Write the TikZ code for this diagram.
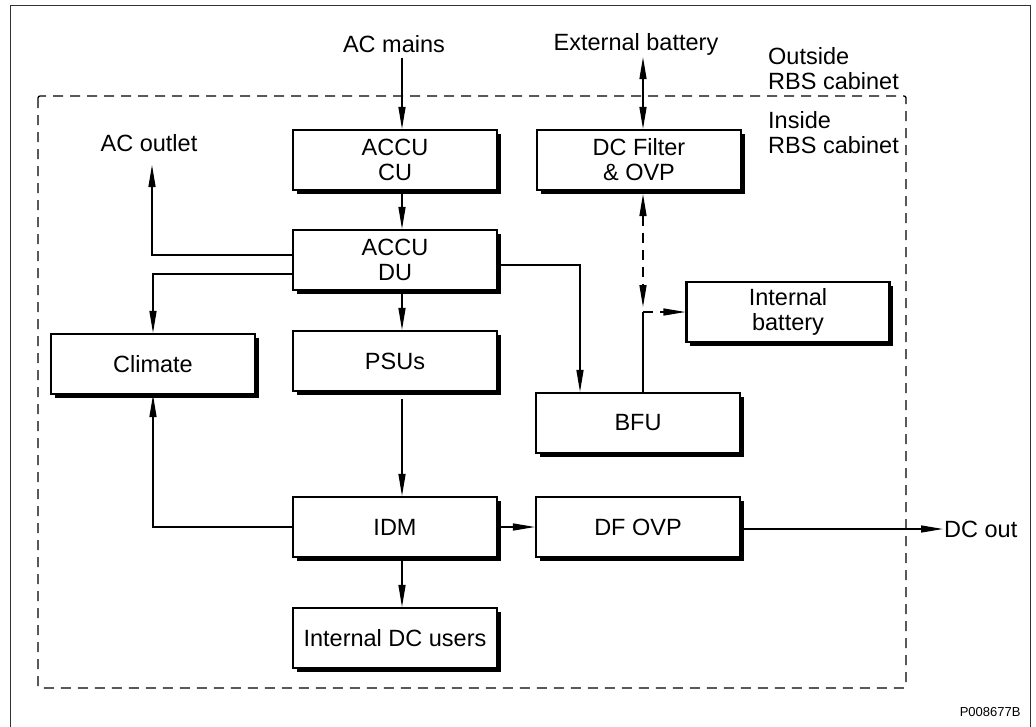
\documentclass[tikz,border=0pt]{standalone}
\usepackage{fontspec}
\setmainfont{Liberation Sans}
\usepackage{tikz}
\usetikzlibrary{arrows.meta, shadows}
\newcommand{\lblfont}{\fontsize{23.5}{25}\selectfont}

\begin{document}
\begin{tikzpicture}[x=1pt, y=-1pt, font=\lblfont,
  unit/.style={draw, line width=2.1pt, fill=white, minimum width=204pt, minimum height=60pt, align=center, inner sep=0pt,
    drop shadow={shadow xshift=3.5pt, shadow yshift=-3.5pt, fill=black, opacity=1}},
  link/.style={line width=1.3pt, -{Triangle[length=22pt,width=7pt]}},
  twoway/.style={line width=1.3pt, {Triangle[length=22pt,width=7pt]}-{Triangle[length=22pt,width=7pt]}},
  dashes/.style={dash pattern=on 10pt off 7pt},
  lbl/.style={inner sep=1pt, align=left}]
  \clip (0,0) rectangle (1036,726);
  \draw[line width=1pt, black!80] (10,5) rectangle (1030,740);
  \draw[line width=1.3pt, dashes, rounded corners=2pt] (38,96) rectangle (906,688);

  % outside / inside
  \node[lbl] (acmains) at (394,44) {AC mains};
  \node[lbl] (extbat) at (636,44) {External battery};
  \node[lbl, anchor=west] (outside) at (767,69) {Outside\\RBS cabinet};
  \node[lbl, anchor=west] (inside) at (767,133) {Inside\\RBS cabinet};
  \node[lbl] (acout) at (149,143) {AC outlet};
  \node[lbl, anchor=west] (dcout) at (943,529) {DC out};
  \node[font=\fontsize{13}{15}\selectfont, anchor=east] (code) at (1024,712) {P008677B};

  % units
  \node[unit] (cu) at (395,160) {ACCU\\CU};
  \node[unit] (du) at (395,260) {ACCU\\DU};
  \node[unit] (psu) at (395,361) {PSUs};
  \node[unit] (idm) at (395,527) {IDM};
  \node[unit] (dcu) at (395,638) {Internal DC users};
  \node[unit] (clim) at (153,364) {Climate};
  \node[unit] (dcf) at (639,160) {DC Filter\\\& OVP};
  \node[unit, minimum width=203pt] (ibat) at (788,312) {Internal\\battery};
  \node[unit] (bfu) at (638,423) {BFU};
  \node[unit] (dfovp) at (638,527) {DF OVP};

  \coordinate (colA) at (402,0);
  \coordinate (colB) at (580,0);
  \coordinate (colC) at (643,0);
  \coordinate (tipL) at (152,165);
  \coordinate (jn) at (643,307);
  \coordinate (corner) at (643,312);

  % AC side
  \draw[link] ([yshift=-4pt]acmains.south -| colA) -- (cu.north -| colA);
  \draw[link] (cu.south -| colA) -- (du.north -| colA);
  \draw[link] ([yshift=5pt]du.west) -| (tipL);
  \draw[link] ([yshift=-14pt]du.west) -| (clim.north);
  \draw[link] (du.south -| colA) -- (psu.north -| colA);
  \draw[link] ([yshift=-5pt]du.east) -| (bfu.north -| colB);
  \draw[link] ([yshift=-7pt]psu.south -| colA) -- (idm.north -| colA);

  % DC side
  \draw[link] (idm.west) -| (clim.south);
  \draw[link] (idm.east) -- (dfovp.west);
  \draw[link] (idm.south -| colA) -- (dcu.north -| colA);
  \draw[link] ([yshift=-2pt]dfovp.east) -- (dcout.west);

  % batteries
  \draw[twoway] ([yshift=-1pt]extbat.south -| colC) -- (dcf.north -| colC);
  \draw[twoway, dashes] ([yshift=-3pt]dcf.south -| colC) -- (jn);
  \draw[line width=1.3pt] (bfu.north -| colC) -- (corner);
  \draw[link, dashes] (corner) -- (ibat.west);
\end{tikzpicture}
\end{document}
